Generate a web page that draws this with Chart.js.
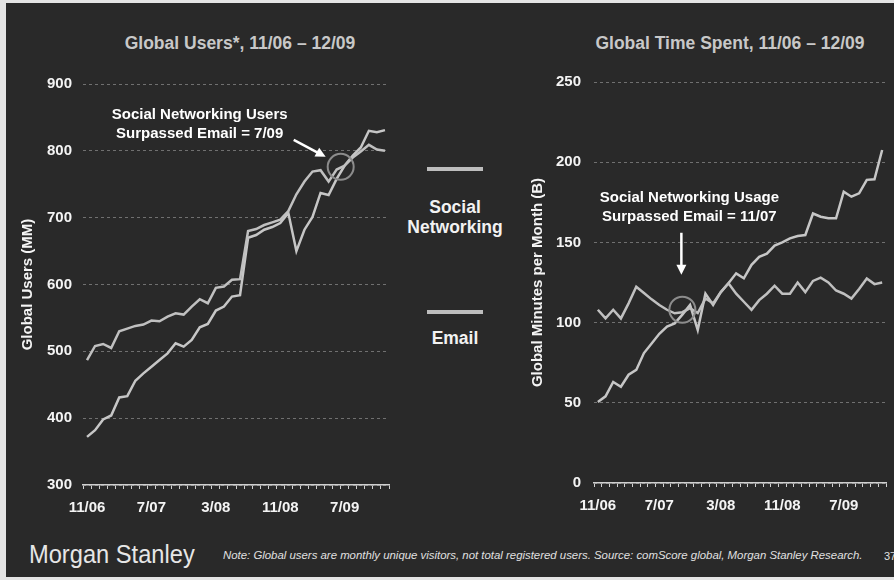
<!DOCTYPE html>
<html>
<head>
<meta charset="utf-8">
<script src="https://cdn.jsdelivr.net/npm/chart.js@4.4.0/dist/chart.umd.min.js"></script>
<style>
  body { margin: 0; width: 894px; height: 580px; overflow: hidden; position: relative; background: #e4e4e4; font-family: 'Liberation Sans', Arial, sans-serif; }
  #panel { position: absolute; left: 6px; top: 3px; width: 888px; height: 574px; background: #292929; }
  .txt { position: absolute; white-space: nowrap; }
  .title { font-weight: bold; font-size: 17.5px; line-height: 17.5px; color: #c8c8c8; width: 400px; text-align: center; }
  .legend { font-weight: bold; font-size: 17.5px; line-height: 17.5px; color: #f2f2f2; width: 200px; text-align: center; left: 355px; }
  .swatch { position: absolute; left: 427px; width: 56px; height: 4px; background: #bdbdbd; }
  #leftWrap { position: absolute; left: 0; top: 0; }
  #rightWrap { position: absolute; left: 500px; top: 0; }
</style>
</head>
<body>
<div id="panel"></div>

<div class="txt title" style="left:40px; top:35px;">Global Users*, 11/06 – 12/09</div>
<div class="txt title" style="left:530px; top:35px;">Global Time Spent, 11/06 – 12/09</div>

<div class="swatch" style="top:167px;"></div>
<div class="txt legend" style="top:199px;">Social</div>
<div class="txt legend" style="top:219px;">Networking</div>
<div class="swatch" style="top:310px;"></div>
<div class="txt legend" style="top:330px;">Email</div>

<div id="leftWrap"><canvas id="usersChart" width="410" height="530"></canvas></div>
<div id="rightWrap"><canvas id="timeChart" width="394" height="530"></canvas></div>

<div class="txt" style="left:29px; top:541px; font-size:26px; line-height:26px; color:#e6e6e6; transform:scaleX(0.91); transform-origin:left top;">Morgan Stanley</div>
<div class="txt" style="left:223px; top:550px; font-size:11.4px; line-height:11.4px; font-style:italic; color:#e0e0e0;">Note: Global users are monthly unique visitors, not total registered users. Source: comScore global, Morgan Stanley Research.</div>
<div class="txt" style="left:884px; top:551px; font-size:11px; line-height:11px; color:#e0e0e0;">37</div>

<script>
// Meses 11/06 - 12/09
const months = ['11/06','12/06',
  '1/07','2/07','3/07','4/07','5/07','6/07','7/07','8/07','9/07','10/07','11/07','12/07',
  '1/08','2/08','3/08','4/08','5/08','6/08','7/08','8/08','9/08','10/08','11/08','12/08',
  '1/09','2/09','3/09','4/09','5/09','6/09','7/09','8/09','9/09','10/09','11/09','12/09'];

// Usuarios globales (MM)
const socialUsers = [372,382,398,404,431,433,456,467,477,487,497,512,507,517,536,541,561,567,582,584,
  670,674,682,686,692,707,650,682,701,737,734,758,778,793,805,830,828,831];
const emailUsers = [487,508,511,505,530,534,538,540,546,545,552,557,555,567,578,572,595,597,607,608,
  680,683,689,693,697,710,735,754,769,771,754,772,778,790,799,809,802,800];

// Minutos globales por mes (B)
const socialTime = [50.5,54,63,60,67.5,70.5,81,87,93,97.5,99.5,105,111,95.4,118,111,119,124.5,130.7,127.6,
  136,141,143,148,150,152.5,154,154.6,168,166,165,165,181.6,178.5,180.6,189,189.3,207.6];
const emailTime = [108,102.6,108,102.6,112,122.4,118.5,114.5,111,108,105.8,106.5,109,106,115,112,119,124.5,118,113,
  108,114,118,123,118,118,125,119,126,128,125,120,118,115,121,127.5,124,125];

const usersTicks = [300, 900, 100];   // min, max, paso
const timeTicks = [0, 250, 50];

const lineColor = '#c0c0c0';
const gridColor = '#707070';
const axisColor = '#d0d0d0';
const tickFont = { family: 'Liberation Sans', size: 15, weight: 'bold' };

// Dibuja el circulo, la flecha y el texto de la anotacion
const notesPlugin = {
  id: 'notes',
  afterDatasetsDraw(chart, args, opts) {
    const { ctx, scales: { x, y } } = chart;
    const cx = (x.getPixelForValue(opts.at[0]) + x.getPixelForValue(opts.at[1])) / 2;
    const cy = y.getPixelForValue(opts.value);
    ctx.save();
    ctx.strokeStyle = '#8c8c8c';
    ctx.lineWidth = 2;
    ctx.beginPath();
    ctx.arc(cx, cy, 13, 0, Math.PI * 2);
    ctx.stroke();

    const x0 = cx + opts.arrow[0], y0 = cy + opts.arrow[1];
    const x1 = cx + opts.arrow[2], y1 = cy + opts.arrow[3];
    const ang = Math.atan2(y1 - y0, x1 - x0);
    ctx.strokeStyle = '#ffffff';
    ctx.fillStyle = '#ffffff';
    ctx.lineWidth = 2.5;
    ctx.beginPath();
    ctx.moveTo(x0, y0);
    ctx.lineTo(x1 - 7 * Math.cos(ang), y1 - 7 * Math.sin(ang));
    ctx.stroke();
    ctx.beginPath();
    ctx.moveTo(x1, y1);
    ctx.lineTo(x1 - 10 * Math.cos(ang) + 5 * Math.sin(ang), y1 - 10 * Math.sin(ang) - 5 * Math.cos(ang));
    ctx.lineTo(x1 - 10 * Math.cos(ang) - 5 * Math.sin(ang), y1 - 10 * Math.sin(ang) + 5 * Math.cos(ang));
    ctx.closePath();
    ctx.fill();

    ctx.font = 'bold 15px "Liberation Sans"';
    ctx.textAlign = 'center';
    ctx.textBaseline = 'alphabetic';
    opts.text.forEach((t, k) => ctx.fillText(t, cx + opts.textAt[0], cy + opts.textAt[1] + k * 19));
    ctx.restore();
  }
};

const makeChart = (id, social, email, range, yTitle, opts) => {
  const ctx = document.getElementById(id).getContext('2d');
  return new Chart(ctx, {
    type: 'line',
    data: {
      labels: months,
      datasets: [
        { label: 'Email', data: email, borderColor: lineColor, borderWidth: 2.5, pointRadius: 0, tension: 0 },
        { label: 'Social Networking', data: social, borderColor: '#c6c6c6', borderWidth: 2.5, pointRadius: 0, tension: 0 }
      ]
    },
    options: {
      responsive: false,
      animation: false,
      devicePixelRatio: 1,
      layout: { padding: opts.padding },
      plugins: {
        legend: { display: false },
        tooltip: { enabled: false },
        notes: opts.notes
      },
      scales: {
        x: {
          offset: true,
          grid: { offset: true, drawOnChartArea: false, color: axisColor, tickLength: 4, lineWidth: 1 },
          border: { display: true, color: axisColor, width: 1.5 },
          ticks: {
            autoSkip: false, maxRotation: 0, padding: 10, color: '#f4f4f4', font: tickFont,
            callback: (v, i) => (i % 8 === 0 ? months[i] : '')
          },
          afterFit: (s) => { s.height = 40; }
        },
        y: {
          min: range[0], max: range[1],
          ticks: { stepSize: range[2], padding: opts.tickPad, color: '#f4f4f4', font: tickFont },
          grid: { color: gridColor, drawTicks: false, lineWidth: 1 },
          border: { display: false, dash: [3, 3] },
          title: { display: true, text: yTitle, color: '#f4f4f4', font: tickFont, padding: { top: opts.titlePad, bottom: 0 } },
          afterFit: (s) => { s.width = opts.yWidth; }
        }
      }
    },
    plugins: [notesPlugin]
  });
};

makeChart('usersChart', socialUsers, emailUsers, usersTicks, 'Global Users (MM)', {
  padding: { top: 84, left: 0, right: 21, bottom: 5 },
  yWidth: 83, tickPad: 11, titlePad: 19,
  notes: {
    at: [31, 32], value: 776,
    arrow: [-47, -27, -15, -10],
    textAt: [-141, -48],
    text: ['Social Networking Users', 'Surpassed Email = 7/09']
  }
});

makeChart('timeChart', socialTime, emailTime, timeTicks, 'Global Minutes per Month (B)', {
  padding: { top: 82, left: 0, right: 8, bottom: 7 },
  yWidth: 94, tickPad: 13, titlePad: 29,
  notes: {
    at: [11, 11], value: 108,
    arrow: [-1, -77, -1, -35],
    textAt: [7, -108],
    text: ['Social Networking Usage', 'Surpassed Email = 11/07']
  }
});
</script>
</body>
</html>
